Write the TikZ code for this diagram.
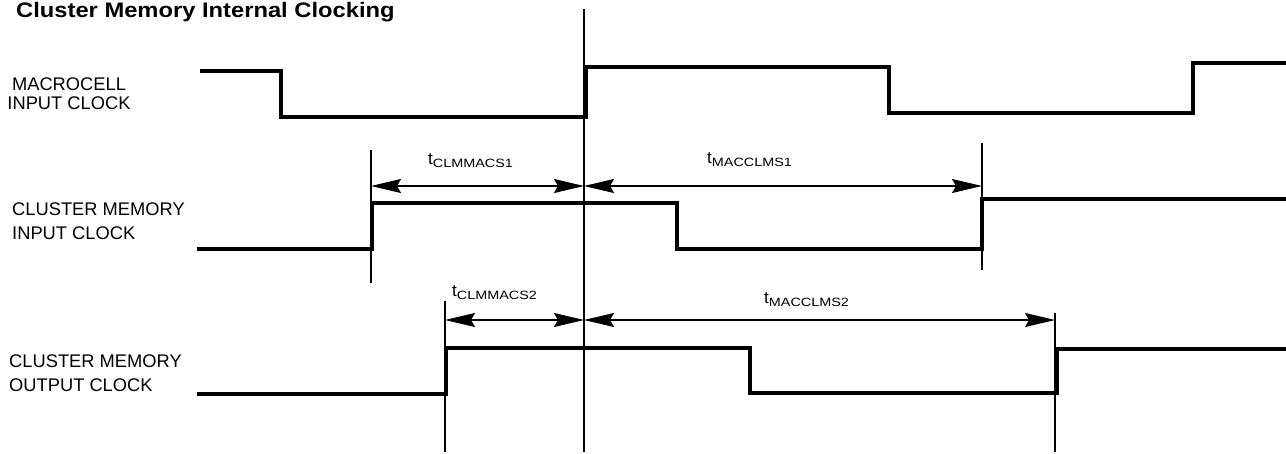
\documentclass[tikz,border=0pt]{standalone}
\usepackage{fontspec}
\setmainfont{Liberation Sans}
\newfontfamily\subfont[FakeStretch=1.2]{Liberation Sans}
\newfontfamily\titlefont[FakeStretch=1.13]{Liberation Sans}
\usetikzlibrary{arrows.meta}
\tikzset{wave/.style={line width=3.2pt,line join=miter}}
\tikzset{guide/.style={line width=1.6pt}}
\tikzset{span/.style={line width=1.6pt,
    {Stealth[length=30pt,width=14pt,inset=4pt]}-{Stealth[length=30pt,width=14pt,inset=4pt]}}}
\tikzset{siglabel/.style={inner sep=0pt,align=left,anchor=west}}
\tikzset{tlabel/.style={inner sep=0pt,anchor=base west,font=\fontsize{17}{20}\selectfont}}
\newcommand{\tparam}[1]{t\raisebox{-3pt}{\subfont\fontsize{12}{14}\selectfont #1}}

\begin{document}
\begin{tikzpicture}[x=1pt,y=-1pt]
  \useasboundingbox (0,0) rectangle (1286,453);
  % title
  \node[inner sep=0pt,anchor=base west,font=\titlefont\bfseries\fontsize{21}{24}\selectfont] (title) at (16,17.5) {Cluster Memory Internal Clocking};
  % signal names
  \node[inner sep=0pt,align=center,font=\fontsize{18.3}{19.5}\selectfont] (macclk) at (69,93.5) {MACROCELL\\INPUT CLOCK};
  \node[siglabel,font=\fontsize{18.3}{24}\selectfont] (clmin) at (12,221.5) {CLUSTER MEMORY\\INPUT CLOCK};
  \node[siglabel,font=\fontsize{18.3}{24}\selectfont] (clmout) at (9,373.5) {CLUSTER MEMORY\\OUTPUT CLOCK};
  % waveforms
  \draw[wave] (200,71) -| (281,117) -| (586,67) -| (889,113) -| (1193,63) -- (1286,63);
  \draw[wave] (197,249) -| (372,203) -| (677,249) -| (982,199) -- (1286,199);
  \draw[wave] (197,394) -| (446,348) -| (750,393) -| (1057,349) -- (1286,349);
  % reference edges
  \coordinate (ref) at (584,9);
  \coordinate (refend) at (584,452);
  \draw[guide] (ref) -- (refend);
  \coordinate (ina) at (371,150);
  \coordinate (inb) at (371,283);
  \draw[guide] (ina) -- (inb);
  \coordinate (inc) at (982,143);
  \coordinate (ind) at (982,270);
  \draw[guide] (inc) -- (ind);
  \coordinate (outa) at (445,301);
  \coordinate (outb) at (445,452);
  \draw[guide] (outa) -- (outb);
  \coordinate (outc) at (1055,313);
  \coordinate (outd) at (1055,452);
  \draw[guide] (outc) -- (outd);
  % timing spans
  \coordinate (s1l) at (371,186);
  \coordinate (s1m) at (584,186);
  \coordinate (s1r) at (982,186);
  \coordinate (s2l) at (445,320);
  \coordinate (s2m) at (584,320);
  \coordinate (s2r) at (1055,320);
  \draw[span] (s1l) -- (s1m);
  \draw[span] (s1m) -- (s1r);
  \draw[span] (s2l) -- (s2m);
  \draw[span] (s2m) -- (s2r);
  \node[tlabel] (tclm1) at (428,164) {\tparam{CLMMACS1}};
  \node[tlabel] (tmac1) at (707,163) {\tparam{MACCLMS1}};
  \node[tlabel] (tclm2) at (452,296) {\tparam{CLMMACS2}};
  \node[tlabel] (tmac2) at (764,303) {\tparam{MACCLMS2}};
\end{tikzpicture}
\end{document}
